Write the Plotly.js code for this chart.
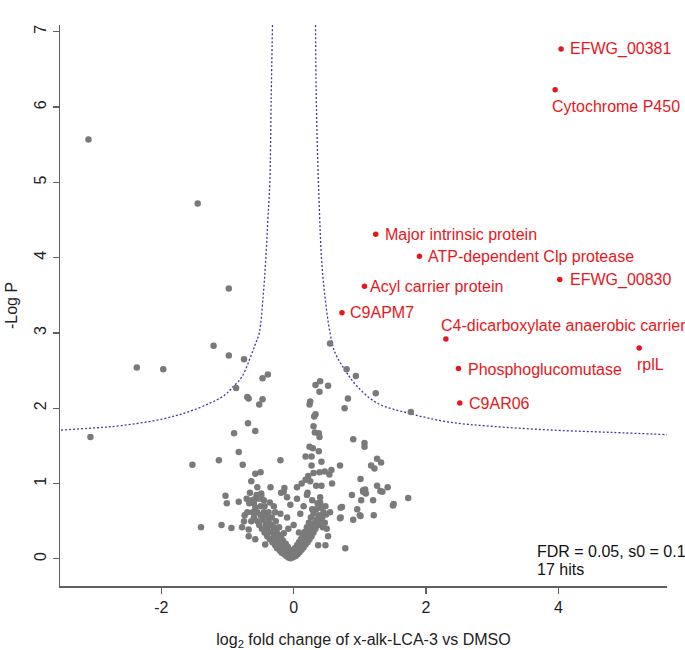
<!DOCTYPE html>
<html>
<head>
<meta charset="utf-8">
<script src="https://cdn.plot.ly/plotly-3.0.1.min.js"></script>
<style>html,body{margin:0;padding:0;background:#fff;}</style>
</head>
<body>
<div id="chart" style="width:685px;height:650px;"></div>
<script>
// ---- Data ----
var grayX = [
 -3.10,-1.45,-0.98,-1.21,-0.98,-0.75,-2.37,-1.97,-0.47,-0.39,-0.87,-0.70,-0.68,-0.47,-0.52,-0.69,-0.58,-0.90,-3.07,
 0.55,0.80,0.94,0.40,0.33,0.52,0.39,1.24,0.82,0.25,0.24,0.77,1.77,0.33,0.31,0.30,0.32,0.38,0.39,
 0.90,1.07,1.07,0.24,0.29,0.38,0.18,0.27,-0.20,0.42,1.26,1.32,0.70,0.27,1.17,1.22,-0.50,-0.58,0.57,0.54,0.47,0.39,0.30,0.22,
 1.01,-0.64,0.25,0.58,0.42,0.34,1.26,1.42,-0.35,-0.14,0.05,-0.19,0.21,1.31,1.05,1.09,0.88,-0.56,-0.49,1.73,0.40,0.28,1.02,1.20,
 0.40,1.51,-0.63,0.73,0.96,0.55,0.49,1.01,1.21,0.70,0.90,-0.43,0.78,0.37,0.48,-0.58,
 -0.83,-1.53,-1.13,-0.77,-0.55,-1.03,-1.01,-0.83,-0.71,-0.67,-0.58,-0.49,-0.74,-1.40,-1.09,-0.94,-0.68,-0.10,-0.15,1.50,1.34,0.71,0.71,1.00,1.05,1.08,
 -0.62,-0.60,-0.58,-0.55,-0.55,-0.52,-0.50,-0.50,-0.48,-0.47,-0.45,-0.44,-0.42,-0.42,-0.40,-0.40,-0.38,-0.38,-0.36,-0.35,-0.34,-0.33,
 -0.32,-0.30,-0.30,-0.28,-0.28,-0.27,-0.26,-0.25,-0.24,-0.23,-0.22,-0.21,-0.20,-0.19,-0.18,-0.17,-0.16,-0.15,-0.14,-0.13,-0.12,
 -0.11,-0.10,-0.09,-0.08,-0.07,-0.06,-0.05,-0.04,-0.03,-0.02,-0.01,
 0.00,0.01,0.02,0.03,0.04,0.05,0.06,0.07,0.08,0.09,0.10,0.11,0.12,0.13,0.14,0.15,0.16,0.17,0.18,0.19,0.20,0.21,0.22,0.23,0.24,
 0.25,0.26,0.27,0.28,0.30,0.30,0.32,0.33,0.34,0.35,0.37,0.38,0.40,0.41,0.43,0.45,0.47,0.50,0.52,
 -0.75,-0.70,-0.68,-0.78,-0.66,-0.45,-0.30,-0.20,-0.10,0.00,0.10,0.15,0.05,-0.05,0.20,0.12,0.18,0.08,-0.08,
 -0.60,-0.52,-0.44,-0.36,-0.28,0.36,0.44,0.48,-0.64,0.28
];
var grayY = [
 5.57,4.72,3.59,2.83,2.70,2.65,2.54,2.52,2.40,2.45,2.27,2.15,2.13,2.12,2.05,1.80,1.70,1.67,1.62,
 2.86,2.52,2.43,2.36,2.31,2.30,2.22,2.20,2.13,2.09,2.05,2.00,1.95,1.92,1.89,1.76,1.68,1.67,1.62,
 1.59,1.54,1.49,1.49,1.47,1.43,1.36,1.36,1.31,1.29,1.33,1.28,1.24,1.24,1.24,1.20,1.15,1.13,1.18,1.12,1.16,1.15,1.14,1.10,
 1.06,1.03,1.03,1.00,0.97,0.97,0.97,0.95,0.95,0.94,0.95,0.88,0.88,0.90,0.91,0.87,0.85,0.85,0.87,0.81,0.82,0.78,0.78,0.78,
 0.75,0.73,0.78,0.69,0.66,0.62,0.59,0.57,0.58,0.54,0.52,0.19,0.14,0.18,0.18,0.26,
 1.42,1.25,1.31,1.25,0.95,0.84,0.74,0.76,0.80,0.74,0.80,0.84,0.58,0.42,0.45,0.41,0.39,0.82,0.89,0.71,0.89,0.68,0.55,0.58,0.89,0.92,
 0.62,0.55,0.68,0.50,0.62,0.45,0.58,0.70,0.40,0.52,0.62,0.35,0.46,0.56,0.30,0.40,0.50,0.62,0.26,0.36,0.45,0.55,
 0.22,0.32,0.42,0.18,0.28,0.50,0.36,0.14,0.24,0.32,0.42,0.11,0.20,0.28,0.08,0.16,0.24,0.34,0.06,0.12,0.20,
 0.04,0.10,0.16,0.02,0.07,0.12,0.01,0.05,0.09,0.02,0.06,
 0.03,0.08,0.14,0.04,0.10,0.18,0.06,0.13,0.22,0.09,0.16,0.26,0.12,0.20,0.30,0.15,0.24,0.36,0.19,0.28,0.42,0.22,0.33,0.48,0.26,
 0.38,0.55,0.30,0.44,0.35,0.60,0.48,0.40,0.66,0.52,0.45,0.58,0.50,0.68,0.55,0.62,0.48,0.40,0.30,
 0.50,0.62,0.30,0.42,0.88,0.78,0.70,0.60,0.55,0.45,0.60,0.70,0.80,0.72,0.85,1.00,1.05,0.35,0.40,
 0.74,0.80,0.70,0.75,0.62,0.74,0.42,0.70,0.50,0.66
];

var hitNames = ["EFWG_00381","Cytochrome P450","Major intrinsic protein","ATP-dependent Clp protease","EFWG_00830",
  "Acyl carrier protein","C9APM7","C4-dicarboxylate anaerobic carrier","rplL","Phosphoglucomutase","C9AR06"];
var hitX = [4.04,3.95,1.24,1.90,4.02,1.07,0.73,2.30,5.22,2.49,2.51];
var hitY = [6.77,6.23,4.31,4.02,3.71,3.62,3.27,2.92,2.80,2.53,2.07];

// threshold curve (FDR = 0.05, s0 = 0.1)
var curveRightX = [0.33,0.34,0.36,0.39,0.42,0.47,0.55,0.62,0.78,0.95,1.26,1.76,2.32,3.00,3.92,4.80,5.64];
var curveRightY = [7.09,6.20,5.40,4.60,4.00,3.50,3.00,2.75,2.50,2.30,2.07,1.93,1.82,1.76,1.71,1.68,1.65];
var curveLeftX = [-0.32,-0.34,-0.36,-0.39,-0.42,-0.46,-0.52,-0.58,-0.67,-0.78,-0.91,-1.05,-1.26,-1.60,-1.97,-2.60,-3.00,-3.53];
var curveLeftY = [7.09,6.10,5.00,4.50,4.00,3.50,3.00,2.85,2.64,2.42,2.29,2.17,2.07,1.95,1.86,1.77,1.74,1.71];

var xTickVals = [-2,0,2,4];
var xTickText = ["-2","0","2","4"];
var yTickVals = [0,1,2,3,4,5,6,7];
var yTickText = ["0","1","2","3","4","5","6","7"];

// ---- Styles ----
var RED = "rgb(232,22,28)";
var GRAY = "rgb(122,122,122)";
var CURVE = "rgb(60,60,160)";
var FONT = "Liberation Sans, Arial, Helvetica, sans-serif";

// label placement (pixel offsets relative to the dot)
var labelPlacement = [
  {xa:"left", ya:"middle", dx:7,  dy:0},
  {xa:"left", ya:"middle", dx:-5, dy:-17},
  {xa:"left", ya:"middle", dx:7,  dy:0},
  {xa:"left", ya:"middle", dx:7,  dy:0},
  {xa:"left", ya:"middle", dx:8,  dy:0},
  {xa:"left", ya:"middle", dx:4,  dy:0},
  {xa:"left", ya:"middle", dx:6,  dy:0},
  {xa:"left", ya:"middle", dx:-7, dy:14},
  {xa:"left", ya:"middle", dx:-4, dy:-16},
  {xa:"left", ya:"middle", dx:8,  dy:-1},
  {xa:"left", ya:"middle", dx:7,  dy:0}
];

var traces = [
  {x: curveLeftX, y: curveLeftY, mode:"lines", line:{color:CURVE, width:1.3, dash:"2px,2px", shape:"spline"}, hoverinfo:"skip", showlegend:false},
  {x: curveRightX, y: curveRightY, mode:"lines", line:{color:CURVE, width:1.3, dash:"2px,2px", shape:"spline"}, hoverinfo:"skip", showlegend:false},
  {x: grayX, y: grayY, mode:"markers", type:"scatter", marker:{color:GRAY, size:6.5}, showlegend:false},
  {x: hitX, y: hitY, mode:"markers", type:"scatter", marker:{color:RED, size:5.5}, text: hitNames, showlegend:false}
];

var annotations = hitNames.map(function(n, i){
  var p = labelPlacement[i];
  return {x: hitX[i], y: hitY[i], xref:"x", yref:"y", text: n, showarrow:false,
    xanchor:p.xa, yanchor:p.ya, xshift:p.dx, yshift:p.dy,
    font:{family:FONT, size:16, color:RED}};
});
annotations.push({xref:"paper", yref:"paper", x:0.783, y:0.062, xanchor:"left", yanchor:"middle", showarrow:false,
  text:"FDR = 0.05, s0 = 0.1", font:{family:FONT, size:16, color:"#111"}});
annotations.push({xref:"paper", yref:"paper", x:0.783, y:0.029, xanchor:"left", yanchor:"middle", showarrow:false,
  text:"17 hits", font:{family:FONT, size:16, color:"#111"}});

var layout = {
  width:685, height:650,
  margin:{l:60, r:18, t:25, b:64},
  paper_bgcolor:"#fff", plot_bgcolor:"#fff",
  font:{family:FONT, size:16, color:"#222"},
  xaxis:{range:[-3.53,5.64], showline:true, linecolor:"#606060", linewidth:1.5, ticks:"outside", ticklen:6, tickwidth:1.2, tickcolor:"#606060",
    tickvals:xTickVals, ticktext:xTickText, showgrid:false, zeroline:false, tickfont:{size:16, color:"#222"},
    title:{text:"log<sub>2</sub> fold change of x-alk-LCA-3 vs DMSO", font:{size:16, color:"#222"}, standoff:20}},
  yaxis:{range:[-0.36,7.09], showline:true, linecolor:"#606060", linewidth:1.5, ticks:"outside", ticklen:6, tickwidth:1.2, tickcolor:"#606060",
    tickvals:yTickVals, ticktext:yTickText, tickangle:-90, showgrid:false, zeroline:false, tickfont:{size:16, color:"#222"},
    title:{text:"-Log P", font:{size:16, color:"#222"}, standoff:10}},
  annotations: annotations,
  showlegend:false
};

Plotly.newPlot("chart", traces, layout, {staticPlot:true, displayModeBar:false});
</script>
</body>
</html>
